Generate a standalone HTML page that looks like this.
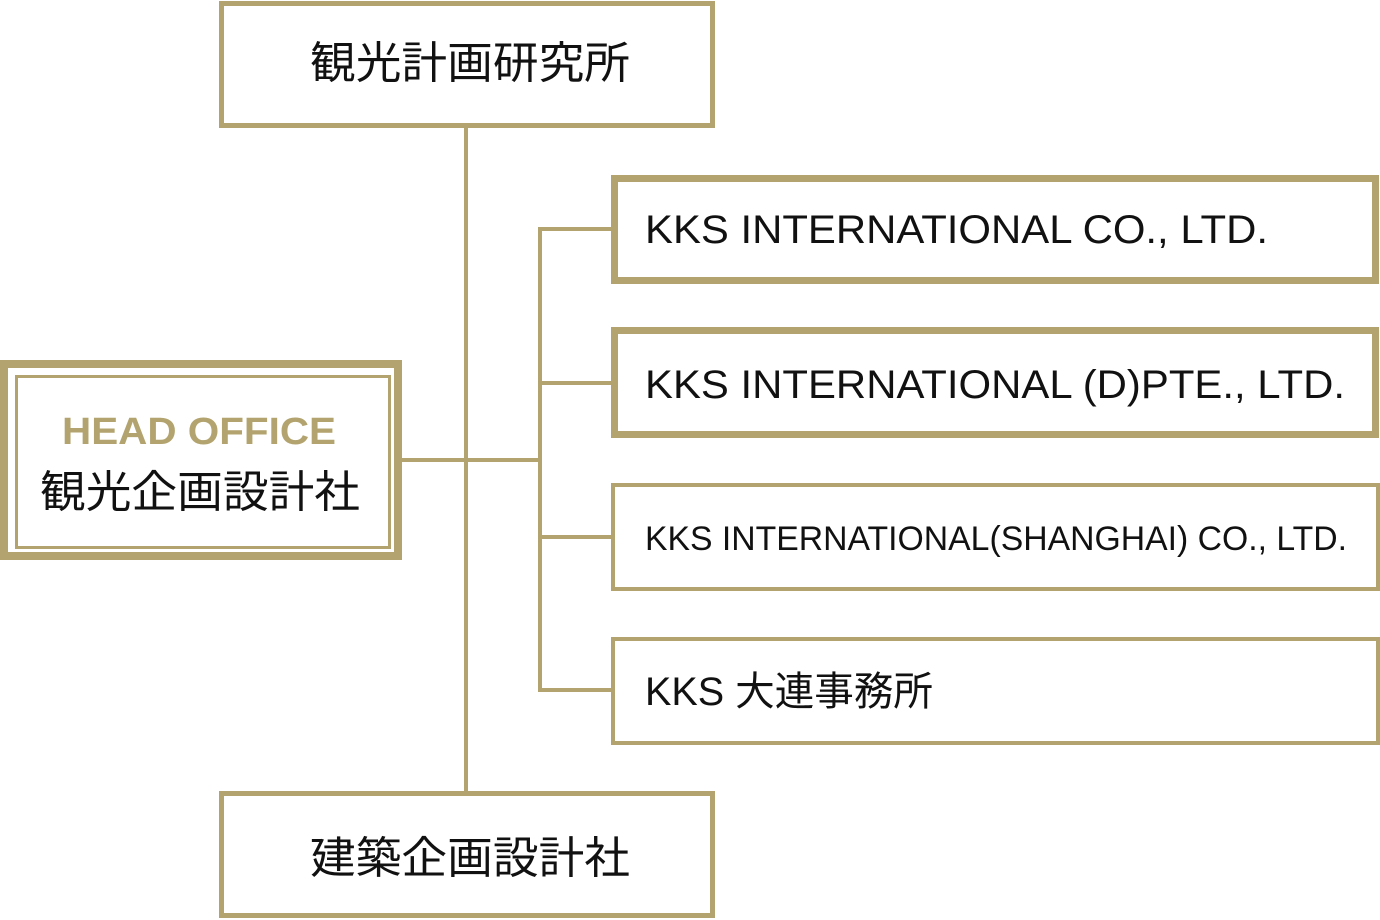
<!DOCTYPE html>
<html><head><meta charset="utf-8"><style>html,body{margin:0;padding:0;background:#fff;}svg{display:block}</style></head>
<body>
<svg width="1380" height="920" viewBox="0 0 1380 920" xmlns="http://www.w3.org/2000/svg">
<g fill="none" stroke="#b3a46f">
<!-- connectors -->
<line x1="466" y1="128" x2="466" y2="792" stroke-width="4"/>
<line x1="400" y1="460" x2="540" y2="460" stroke-width="4"/>
<line x1="540" y1="227" x2="540" y2="692" stroke-width="4"/>
<line x1="538" y1="229" x2="612" y2="229" stroke-width="4"/>
<line x1="538" y1="383" x2="612" y2="383" stroke-width="4"/>
<line x1="538" y1="537" x2="612" y2="537" stroke-width="4"/>
<line x1="538" y1="690" x2="612" y2="690" stroke-width="4"/>
<!-- top / bottom boxes -->
<rect x="221.5" y="3.5" width="491" height="122" stroke-width="5"/>
<rect x="221.5" y="793.5" width="491" height="122" stroke-width="5"/>
<!-- head office -->
<rect x="4" y="364" width="394" height="192" stroke-width="8"/>
<rect x="16.5" y="376.5" width="373" height="171" stroke-width="3"/>
<!-- right boxes -->
<rect x="614.5" y="178.5" width="761" height="102" stroke-width="7"/>
<rect x="614.5" y="330.5" width="761" height="104" stroke-width="7"/>
<rect x="613" y="485" width="765" height="104" stroke-width="4"/>
<rect x="613" y="639" width="765" height="104" stroke-width="4"/>
</g>
<g font-family="'Liberation Sans','Noto Sans CJK JP',sans-serif" fill="#111">
<text x="310" y="78" font-size="44" textLength="320" lengthAdjust="spacingAndGlyphs">観光計画研究所</text>
<text x="310" y="873" font-size="44" textLength="320" lengthAdjust="spacingAndGlyphs">建築企画設計社</text>
<text x="62" y="444" font-size="38" font-weight="bold" fill="#b3a46f" textLength="274" lengthAdjust="spacingAndGlyphs">HEAD OFFICE</text>
<text x="40" y="507" font-size="44" textLength="320" lengthAdjust="spacingAndGlyphs">観光企画設計社</text>
<text x="645" y="243" font-size="40" textLength="623" lengthAdjust="spacingAndGlyphs">KKS INTERNATIONAL CO., LTD.</text>
<text x="645" y="398" font-size="40" textLength="700" lengthAdjust="spacingAndGlyphs">KKS INTERNATIONAL (D)PTE., LTD.</text>
<text x="645" y="550" font-size="34" textLength="702" lengthAdjust="spacingAndGlyphs">KKS INTERNATIONAL(SHANGHAI) CO.,  LTD.</text>
<text x="645" y="705" font-size="40" textLength="288" lengthAdjust="spacingAndGlyphs">KKS 大連事務所</text>
</g>
</svg>
</body></html>
